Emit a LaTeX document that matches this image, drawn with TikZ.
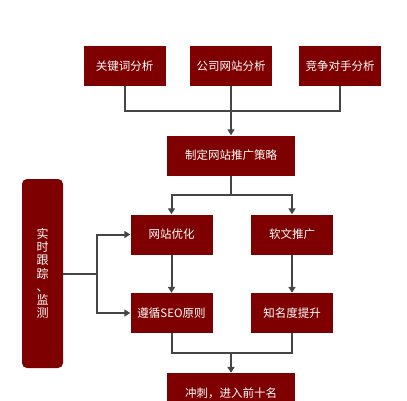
\documentclass[tikz,border=0pt]{standalone}
\usepackage{fontspec}
\newfontfamily\cjk{Noto Sans CJK SC}
\usetikzlibrary{arrows.meta}
\definecolor{boxred}{HTML}{7F0000}
\definecolor{wire}{HTML}{454545}
\tikzset{
  box/.style={fill=boxred,text=white,minimum width=82pt,minimum height=40pt,inner sep=0pt,font=\cjk\fontsize{11.5}{14}\selectfont},
  widebox/.style={box,minimum width=128pt},
  link/.style={draw=wire,line width=2pt},
  arr/.style={link,-{Triangle[length=6pt,width=7pt]}}
}

\begin{document}
\begin{tikzpicture}[x=1pt,y=-1pt]
  \clip (0,0) rectangle (407,400);
  \fill[white] (0,0) rectangle (407,400);

  % analysis boxes
  \node[box] (kw)   at (124.5,66) {关键词分析};
  \node[box] (site) at (231,66)   {公司网站分析};
  \node[box] (comp) at (340,66)   {竞争对手分析};

  \node[widebox] (plan) at (231,155.5) {制定网站推广策略};

  \node[box] (opt)  at (171.5,234.5) {网站优化};
  \node[box] (soft) at (292,234.5)   {软文推广};
  \node[box] (seo)  at (171.5,313)   {遵循SEO原则};
  \node[box] (fame) at (292,313)     {知名度提升};

  \node[widebox] (rank) at (231,393) {冲刺，进入前十名};

  % tracking bar
  \node[box,minimum width=41pt,minimum height=189pt,rounded corners=5pt,align=center,
        font=\cjk\fontsize{12}{14}\selectfont] (track) at (42.5,273.5)
        {实\\[-0.8pt]时\\[-0.8pt]跟\\[-0.8pt]踪\\[-0.8pt]、\\[-0.8pt]监\\[-0.8pt]测};

  \coordinate (j1) at (231,111);
  \coordinate (j2) at (231,195);
  \coordinate (j3) at (231,353);
  \coordinate (j4) at (97,273.5);

  \draw[link] (kw.south) |- (j1) -| (comp.south);
  \draw[arr] (site.south) -- (plan.north);

  \draw[link] (plan.south) -- (j2);
  \draw[arr] (j2) -| (opt.north);
  \draw[arr] (j2) -| (soft.north);

  \draw[arr] (opt.south) -- (seo.north);
  \draw[arr] (soft.south) -- (fame.north);

  \draw[link] (seo.south) |- (j3) -| (fame.south);
  \draw[arr] (j3) -- (rank.north);

  \draw[link] (track.east) -- (j4);
  \draw[arr] (j4) |- (opt.west);
  \draw[arr] (j4) |- (seo.west);
\end{tikzpicture}
\end{document}
